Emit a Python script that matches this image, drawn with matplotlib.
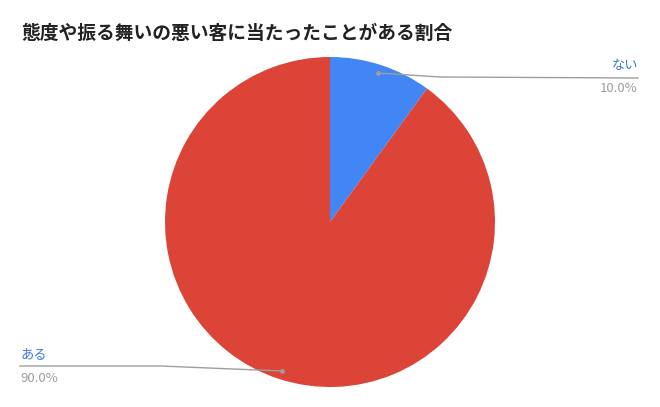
import matplotlib.pyplot as plt

plt.rcParams['font.family'] = ['Noto Sans CJK JP', 'DejaVu Sans']

title = '態度や振る舞いの悪い客に当たったことがある割合'
labels = ['ない', 'ある']
values = [10.0, 90.0]
colors = ['#4285F4', '#DB4437']

W, H = 660, 407
fig = plt.figure(figsize=(W / 100, H / 100), dpi=100)
ax = fig.add_axes([0, 0, 1, 1])

cx, cy, r = 330, H - 222, 165
ax.pie(values, colors=colors, startangle=90, counterclock=False,
       center=(cx, cy), radius=r, frame=True,
       wedgeprops=dict(linewidth=0))
ax.set_xlim(0, W)
ax.set_ylim(0, H)
ax.set_aspect('equal')
ax.axis('off')

fig.text(21 / W, 1 - 33 / H, title, fontsize=13.5, fontweight='bold',
         color='#222222', va='center', ha='left')

# ない (右上)
ax.plot([378, 440, 638], [H - 73, H - 77, H - 78], color='#9e9e9e', lw=1)
ax.plot(378, H - 73, 'o', color='#9e9e9e', ms=2.5)
ax.text(638, H - 66, labels[0], color='#3c78d8', fontsize=9.5, ha='right', va='center')
ax.text(638, H - 89, f'{values[0]:.1f}%', color='#9e9e9e', fontsize=9.5, ha='right', va='center')

# ある (左下)
ax.plot([20, 160, 282], [H - 366, H - 366, H - 371], color='#9e9e9e', lw=1)
ax.plot(282, H - 371, 'o', color='#9e9e9e', ms=2.5)
ax.text(20, H - 355, labels[1], color='#3c78d8', fontsize=9.5, ha='left', va='center')
ax.text(20, H - 378, f'{values[1]:.1f}%', color='#9e9e9e', fontsize=9.5, ha='left', va='center')

fig.savefig('out.png', dpi=100)
